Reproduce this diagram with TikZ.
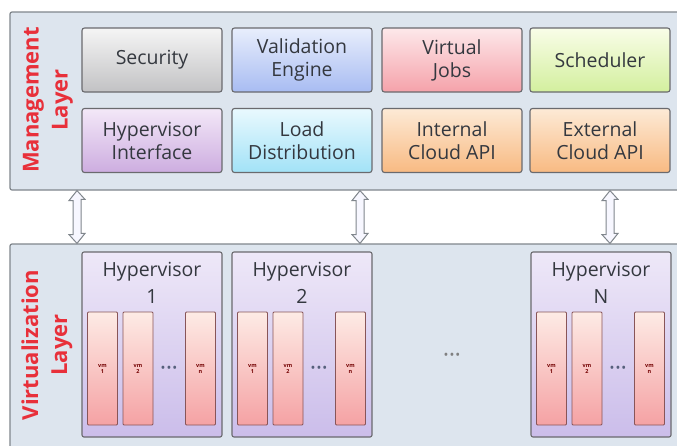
\documentclass[tikz,border=0pt]{standalone}
\usepackage{fontspec}
\setmainfont{Open Sans}

\definecolor{layerfill}{HTML}{DDE5EE}
\definecolor{layerline}{HTML}{80868C}
\definecolor{boxline}{HTML}{6A6A6E}
\definecolor{txt}{HTML}{34383F}
\definecolor{layred}{HTML}{E8303A}
\definecolor{dotcol}{HTML}{56607C}

\begin{document}
\begin{tikzpicture}[x=1pt, y=-1pt,
  layer/.style={draw=layerline, fill=layerfill, line width=1.2pt, rounded corners=2pt,
    inner sep=0pt, minimum width=690pt},
  laytext/.style={rotate=90, align=center, text=layred, font=\fontsize{22}{29}\bfseries\selectfont},
  mbox/.style={draw=boxline, line width=1.1pt, rounded corners=2.5pt, minimum width=140pt,
    minimum height=64pt, align=center, inner sep=0pt, text=txt,
    font=\fontsize{19.5}{23}\selectfont},
  grey/.style={top color=HTML:F4F4F4!100, bottom color=HTML:C2C2C2!100},
  sgrey/.style={top color=grtop, bottom color=grbot},
  blue/.style={top color=bltop, bottom color=blbot},
  pink/.style={top color=pktop, bottom color=pkbot},
  green/.style={top color=gntop, bottom color=gnbot},
  lilac/.style={top color=lltop, bottom color=llbot},
  cyanb/.style={top color=cytop, bottom color=cybot},
  peach/.style={top color=pctop, bottom color=pcbot},
  hyp/.style={draw=boxline, line width=1.1pt, rounded corners=2pt, minimum width=140pt,
    minimum height=185pt, inner sep=0pt, top color=hytop, bottom color=hybot},
  hyptext/.style={align=center, text=txt, font=\fontsize{19.5}{27}\selectfont, inner sep=0pt},
  vm/.style={draw=boxline!80!red, line width=0.9pt, rounded corners=1pt, minimum width=30pt,
    minimum height=113pt, inner sep=0pt, top color=vmtop, bottom color=vmbot,
    align=center, text=red!45!black, font=\fontsize{5.5}{6}\bfseries\selectfont},
  dots/.style={text=dotcol, font=\fontsize{13}{13}\selectfont, inner sep=0pt},
  linkarrow/.style={draw=layerline, fill=blue!3!white, line width=1pt, line join=miter}
]
\definecolor{grtop}{HTML}{F5F5F5}\definecolor{grbot}{HTML}{C2C2C4}
\definecolor{bltop}{HTML}{E8EEFC}\definecolor{blbot}{HTML}{A8BCF2}
\definecolor{pktop}{HTML}{FDE8EA}\definecolor{pkbot}{HTML}{F5A2AA}
\definecolor{gntop}{HTML}{F9FDE8}\definecolor{gnbot}{HTML}{D3EF9E}
\definecolor{lltop}{HTML}{F3E8F8}\definecolor{llbot}{HTML}{CDADE0}
\definecolor{cytop}{HTML}{E9F9FE}\definecolor{cybot}{HTML}{A2E2F7}
\definecolor{pctop}{HTML}{FDEAD6}\definecolor{pcbot}{HTML}{F8BA82}
\definecolor{hytop}{HTML}{EEE8F8}\definecolor{hybot}{HTML}{CBBDEA}
\definecolor{vmtop}{HTML}{FDEBE5}\definecolor{vmbot}{HTML}{F5A2A4}
\clip (0,0) rectangle (677,445);
\fill[white] (0,0) rectangle (677,445);

% the two layers
\node[layer, minimum height=178pt] (mg) at (355,101) {};
\node[layer, minimum height=216pt] (vl) at (355,352) {};

\node[laytext] (mgt) at (48,100) {Management\\Layer};
\node[laytext] (vlt) at (47,345) {Virtualization\\Layer};

% management components
\node[mbox, sgrey] (sec) at (152,60)  {Security};
\node[mbox, blue]  (val) at (302,60)  {Validation\\Engine};
\node[mbox, pink]  (vj)  at (452,60)  {Virtual\\Jobs};
\node[mbox, green] (sch) at (600,60)  {Scheduler};
\node[mbox, lilac] (hi)  at (152,140.5) {Hypervisor\\Interface};
\node[mbox, cyanb] (ld)  at (302,140.5) {Load\\Distribution};
\node[mbox, peach] (ica) at (452,140.5) {Internal\\Cloud API};
\node[mbox, peach] (eca) at (600,140.5) {External\\Cloud API};

% hollow double arrows linking the layers
\coordinate (x1) at (77,0);
\coordinate (x2) at (360,0);
\coordinate (x3) at (610,0);
\foreach \c in {x1,x2,x3} {
  \draw[linkarrow] (mg.south -| \c) -- ++(-8,10) -- ++(4,0) -- ++(0,34) -- ++(-4,0)
    -- (vl.north -| \c) -- ++(8,-10) -- ++(-4,0) -- ++(0,-34) -- ++(4,0) -- cycle;
}

% hypervisors with their virtual machines
\foreach \name/\x/\lab in {h1/152/1, h2/302/2, hn/601/N} {
  \node[hyp] (\name) at (\x,344.5) {};
  \node[hyptext, anchor=north] (\name t) at ([yshift=-11pt]\name.north) {Hypervisor\\\lab};
  \node[vm] (\name v1) at (\x-49.5,368.5) {vm\\1};
  \node[vm] (\name v2) at (\x-14,368.5) {vm\\2};
  \node[vm] (\name vn) at (\x+48.5,368.5) {vm\\n};
  \node[dots] (\name d) at (\x+17,369) {\textbullet\kern1pt\textbullet\kern1pt\textbullet};
}
\node[dots, text=gray] (mid) at (452,356) {\textbullet\kern1pt\textbullet\kern1pt\textbullet};
\end{tikzpicture}
\end{document}
